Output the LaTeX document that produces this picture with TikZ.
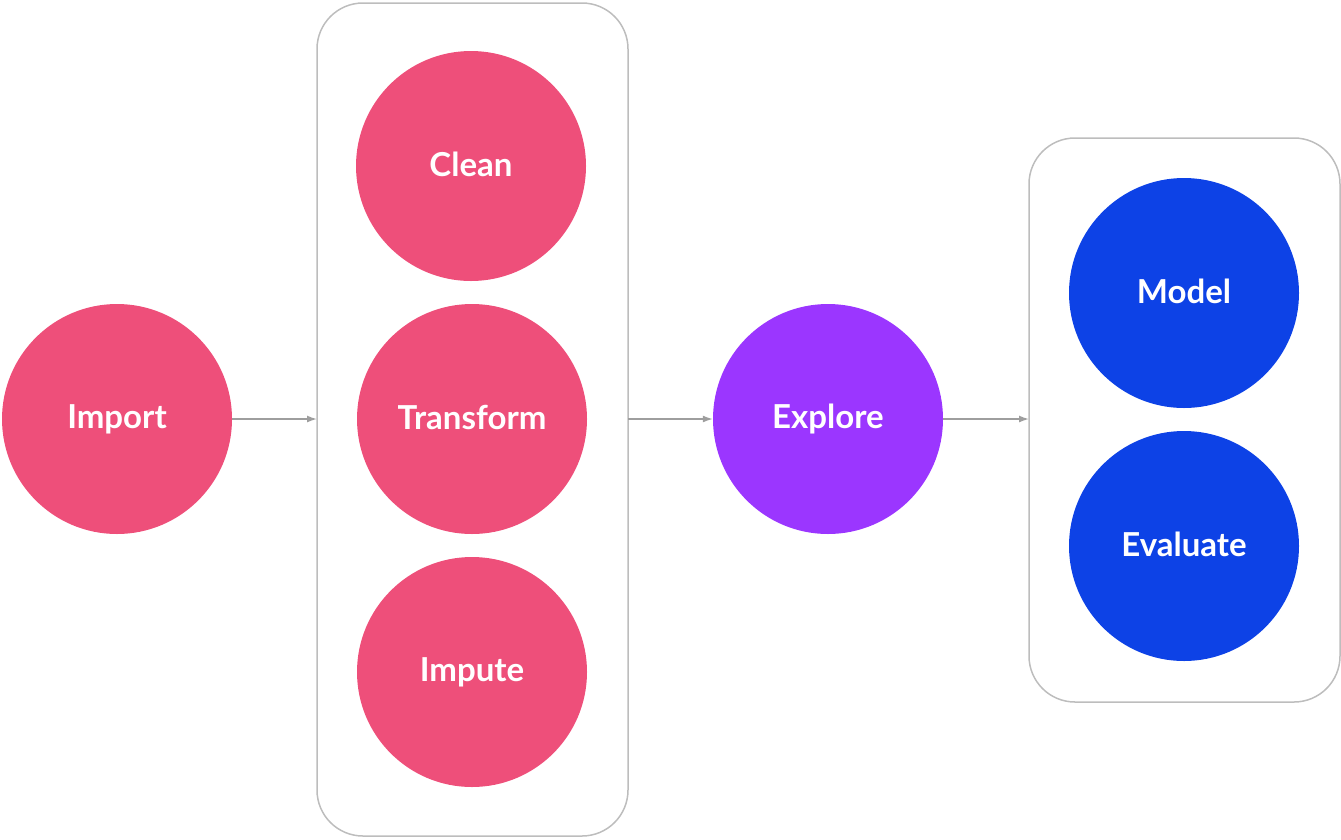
\documentclass[tikz,border=0pt]{standalone}
\usepackage{fontspec}
\setmainfont{Lato}
\usetikzlibrary{arrows.meta}
\definecolor{pinkc}{HTML}{EE4F7A}
\definecolor{purplec}{HTML}{9B36FF}
\definecolor{bluec}{HTML}{0D42E6}
\definecolor{boxc}{HTML}{BDBDBD}
\definecolor{arrc}{HTML}{9E9E9E}
\newcommand{\lbl}[1]{\raisebox{3pt}{#1}}
\tikzset{
  stage/.style={circle, minimum size=230pt, inner sep=0pt, text=white, font=\fontsize{33}{36}\selectfont\bfseries},
  group/.style={draw=boxc, line width=1.5pt, rounded corners=46pt},
  flow/.style={draw=arrc, line width=1.4pt, -{Latex[length=10pt,width=7pt]}},
}
\begin{document}
\begin{tikzpicture}[x=1pt,y=-1pt]
\useasboundingbox (0,0) rectangle (1341,839);
\draw[group] (317,3) rectangle (628,836);
\draw[group] (1029,138) rectangle (1340,702);
\coordinate (g1w) at (317,419);
\coordinate (g1e) at (628,419);
\coordinate (g2w) at (1029,419);
\node[stage, fill=pinkc] (import) at (117,419) {\lbl{Import}};
\node[stage, fill=pinkc] (clean) at (471,166) {\lbl{Clean}};
\node[stage, fill=pinkc] (transform) at (472,419) {\lbl{Transform}};
\node[stage, fill=pinkc] (impute) at (472,672) {\lbl{Impute}};
\node[stage, fill=purplec] (explore) at (828,419) {\lbl{Explore}};
\node[stage, fill=bluec] (model) at (1184,293) {\lbl{Model}};
\node[stage, fill=bluec] (evaluate) at (1184,546) {\lbl{Evaluate}};
\draw[flow] (import.east) -- (g1w);
\draw[flow] (g1e) -- (explore.west);
\draw[flow] (explore.east) -- (g2w);
\end{tikzpicture}
\end{document}
